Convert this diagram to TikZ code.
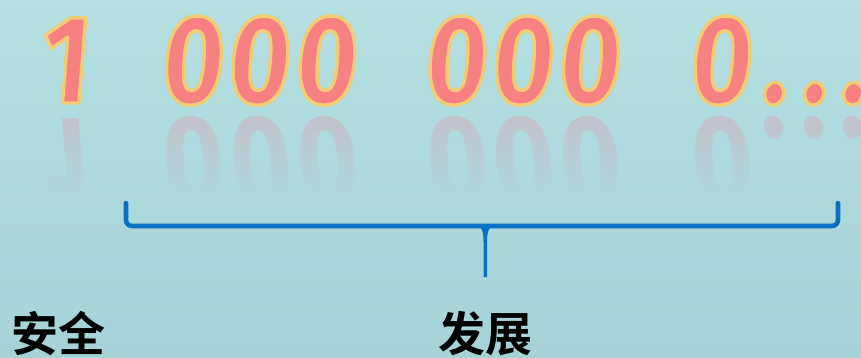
\documentclass[tikz,border=0pt]{standalone}
\usepackage{fontspec}
\usepackage{graphicx}
\usetikzlibrary{fadings}
\newfontfamily\digitfont{Fira Sans}[FakeSlant=0.08, FakeStretch=0.84]
\newfontfamily\cjkfont{Noto Sans CJK SC}[BoldFont={* Bold}]
\definecolor{bgtop}{RGB}{181,223,225}
\definecolor{bgbot}{RGB}{165,211,215}
\definecolor{digitpink}{RGB}{247,129,129}
\definecolor{reflgray}{RGB}{198,190,200}
\definecolor{braceblue}{RGB}{12,112,194}
\newcommand{\outlinetext}[1]{\special{pdf:literal direct 1 j 3.4 w 0.95 0.80 0.45 RG 2 Tr}#1\special{pdf:literal direct 0 Tr}}
\tikzfading[name=reflfade, top color=transparent!92, bottom color=transparent!0]
\tikzset{
  digit/.style={inner sep=0pt, anchor=base, font=\digitfont\bfseries\fontsize{126}{126}\selectfont, text=digitpink},
  refl/.style={inner sep=0pt, anchor=base, transform shape, font=\digitfont\bfseries\fontsize{126}{126}\selectfont, text=reflgray},
  label/.style={inner sep=0pt, anchor=base, font=\cjkfont\bfseries\fontsize{47}{47}\selectfont, text=black},
  brace/.style={draw=braceblue, line width=4.6pt, line cap=round, line join=round}
}
\begin{document}
\begin{tikzpicture}[x=1pt, y=-1pt]
\useasboundingbox (0,0) rectangle (861,358);
\shade[top color=bgtop, bottom color=bgbot] (0,0) rectangle (861,358);
% reflection
\begin{scope}[shift={(0,222)}, yscale=-1]
  \foreach \x/\c [count=\i] in {63/1, 190.5/0, 257/0, 324/0, 454/0, 520.5/0, 587.5/0, 719/0, 773.5/., 813.5/., 852.5/.}{
    \node[refl] (r\i) at (\x,103) {\c};
  }
\end{scope}
\shade[top color=bgtop!69!bgbot, bottom color=bgtop!45!bgbot, path fading=reflfade] (0,112) rectangle (861,195);
\shade[top color=bgtop!45!bgbot, bottom color=bgtop!40!bgbot] (0,195) rectangle (861,215);
% digits
\foreach \x/\c [count=\i] in {63/1, 190.5/0, 257/0, 324/0, 454/0, 520.5/0, 587.5/0, 719/0, 773.5/., 813.5/., 852.5/.}{
  \node[digit] (d\i) at (\x,103) {\outlinetext{\c}};
}
% brace
\draw[brace] (126,203) -- (126,220) arc[start angle=180, end angle=90, radius=6] -- (832,226) arc[start angle=90, end angle=0, radius=6] -- (838,203);
\fill[braceblue] (476,224) .. controls (482,226) and (483.5,232) .. (483.5,242) -- (483.5,277) -- (487,277) -- (487,242) .. controls (487,232) and (489,226) .. (495,224) -- cycle;
% labels
\node[label] (safe) at (58,351) {安全};
\node[label] (dev) at (485,351) {发展};
\end{tikzpicture}
\end{document}
